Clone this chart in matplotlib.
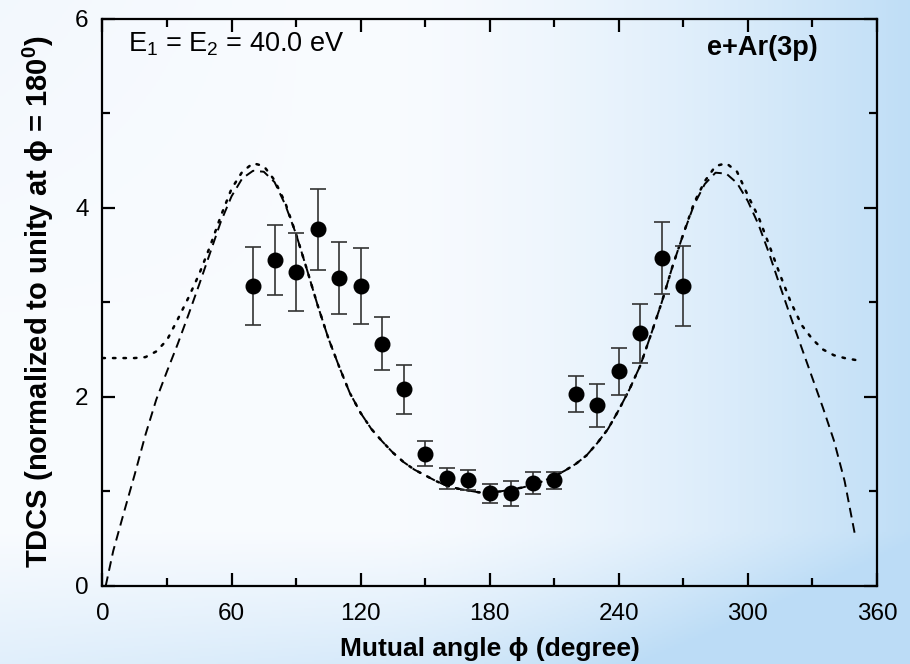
import numpy as np
import matplotlib
matplotlib.use("Agg")
import matplotlib.pyplot as plt
from matplotlib.ticker import MultipleLocator

plt.rcParams['font.family'] = ['Liberation Sans', 'DejaVu Sans']
plt.rcParams['mathtext.fontset'] = 'custom'
plt.rcParams['mathtext.rm'] = 'Liberation Sans'
plt.rcParams['mathtext.it'] = 'Liberation Sans:italic'
plt.rcParams['mathtext.bf'] = 'Liberation Sans:bold'

# Experimental data
exp_angle = [70, 80, 90, 100, 110, 120, 130, 140, 150, 160, 170, 180, 190, 200, 210,
             220, 230, 240, 250, 260, 270]
exp_tdcs = [3.17, 3.45, 3.32, 3.77, 3.26, 3.17, 2.56, 2.08, 1.40, 1.14, 1.12, 0.98, 0.98,
            1.09, 1.12, 2.03, 1.91, 2.27, 2.67, 3.47, 3.17]
exp_err = [0.41, 0.37, 0.41, 0.43, 0.38, 0.40, 0.28, 0.26, 0.13, 0.11, 0.11, 0.10, 0.13,
           0.12, 0.09, 0.19, 0.23, 0.25, 0.31, 0.38, 0.42]

# Theory (dashed)
dash_angle = [1.5, 5, 10, 15, 20, 25, 30, 35, 40, 45, 50, 55, 60, 65, 70, 75, 80, 85, 90, 95,
              100, 105, 110, 115, 120, 125, 130, 135, 140, 145, 150, 155, 160, 165, 170, 175,
              180, 185, 190, 195, 200, 205, 210, 215, 220, 225, 230, 235, 240, 245, 250, 255,
              260, 265, 270, 275, 280, 285, 290, 295, 300, 305, 310, 315, 320, 325, 330, 335,
              340, 345, 350]
dash_tdcs = [0.0, 0.37, 0.78, 1.18, 1.60, 1.97, 2.27, 2.56, 2.87, 3.19, 3.52, 3.85, 4.12, 4.31,
             4.39, 4.38, 4.27, 4.03, 3.72, 3.35, 2.97, 2.62, 2.32, 2.04, 1.83, 1.66, 1.53,
             1.41, 1.31, 1.23, 1.17, 1.11, 1.06, 1.03, 1.01, 0.99, 0.99, 1.00, 1.02, 1.04,
             1.07, 1.11, 1.16, 1.22, 1.29, 1.38, 1.51, 1.66, 1.86, 2.08, 2.33, 2.66, 3.00,
             3.38, 3.72, 4.03, 4.25, 4.37, 4.36, 4.26, 4.07, 3.82, 3.51, 3.17, 2.84, 2.52,
             2.20, 1.88, 1.54, 1.11, 0.52]

# Theory (dotted)
dot_angle = [0, 5, 10, 15, 20, 25, 30, 35, 40, 45, 50, 55, 60, 65, 70, 75, 80, 85, 90, 95,
             100, 105, 110, 115, 120, 125, 130, 135, 140, 145, 150, 155, 160, 165, 170, 175,
             180, 185, 190, 195, 200, 205, 210, 215, 220, 225, 230, 235, 240, 245, 250, 255,
             260, 265, 270, 275, 280, 285, 290, 295, 300, 305, 310, 315, 320, 325, 330, 335,
             340, 345, 350]
dot_tdcs = [2.41, 2.41, 2.41, 2.41, 2.42, 2.48, 2.60, 2.82, 3.05, 3.30, 3.59, 3.91, 4.20, 4.38,
            4.47, 4.44, 4.29, 4.05, 3.72, 3.35, 2.97, 2.62, 2.32, 2.04, 1.83, 1.66, 1.53,
            1.41, 1.31, 1.23, 1.17, 1.11, 1.06, 1.03, 1.01, 0.99, 0.99, 1.00, 1.02, 1.04,
            1.07, 1.11, 1.16, 1.22, 1.29, 1.38, 1.51, 1.66, 1.86, 2.08, 2.33, 2.66, 3.00,
            3.38, 3.72, 4.05, 4.28, 4.44, 4.47, 4.38, 4.13, 3.90, 3.60, 3.29, 3.00, 2.76,
            2.61, 2.50, 2.44, 2.41, 2.39]

x_ticks = [0, 60, 120, 180, 240, 300, 360]
y_ticks = [0, 2, 4, 6]

fig = plt.figure(figsize=(9.10, 6.64), dpi=100)

# background gradient
bg = fig.add_axes([0, 0, 1, 1], zorder=-10)
bg.set_axis_off()
H, W = 332, 455
yy, xx = np.mgrid[0:H, 0:W]
xn = xx / (W - 1)
yn = yy / (H - 1)
t = np.clip((xn - 0.42) / 0.58, 0, 1) ** 1.5 * 0.95
t = t + np.clip((yn - 0.80) / 0.20, 0, 1) ** 1.1 * (0.4 + 0.4 * xn)
t = t + 0.10 * np.clip(1 - (xn / 0.35), 0, 1) * np.clip(1 - yn / 0.5, 0, 1)
t = np.clip(t, 0, 1)
white = np.array([0.975, 0.985, 0.998])
blue = np.array([0.74, 0.865, 0.965])
img = white[None, None, :] * (1 - t[..., None]) + blue[None, None, :] * t[..., None]
bg.imshow(img, extent=[0, 1, 0, 1], aspect='auto', origin='upper')
bg.set_xlim(0, 1)
bg.set_ylim(0, 1)

ax = fig.add_axes([0.1126, 0.1175, 0.851, 0.8546])
ax.patch.set_alpha(0)

ax.plot(dot_angle, dot_tdcs, color='black', lw=1.8, dashes=(1.0, 3.2), dash_capstyle='round')
ax.plot(dash_angle, dash_tdcs, color='black', lw=1.4, dashes=(5, 3))
ax.errorbar(exp_angle, exp_tdcs, yerr=exp_err, fmt='o', color='black', ms=10.5,
            ecolor='#333333', elinewidth=1.2, capsize=6, capthick=1.2, zorder=5)

ax.set_xlim(0, 360)
ax.set_ylim(0, 6)
ax.set_xticks(x_ticks)
ax.set_yticks(y_ticks)
ax.xaxis.set_minor_locator(MultipleLocator(30))
ax.yaxis.set_minor_locator(MultipleLocator(1))
ax.tick_params(which='both', direction='in', top=True, right=True, width=1.6, labelsize=17.5)
ax.tick_params(which='major', length=9.5)
ax.tick_params(which='minor', length=5.5)
ax.tick_params(axis='x', pad=12)
ax.tick_params(axis='y', pad=10)
for s in ax.spines.values():
    s.set_linewidth(1.6)

ax.set_xlabel('Mutual angle ϕ (degree)', fontsize=19, fontweight='bold', labelpad=9)
ax.set_ylabel(r'TDCS (normalized to unity at ϕ = 180$^{\mathbf{0}}$)', fontsize=21,
              fontweight='bold', labelpad=14)

ax.text(0.033, 0.955, r'E$_1$ = E$_2$ = 40.0 eV', transform=ax.transAxes, fontsize=19.5,
        va='center', ha='left')
ax.text(0.924, 0.948, 'e+Ar(3p)', transform=ax.transAxes, fontsize=19.5, fontweight='bold',
        va='center', ha='right')

fig.savefig('out.png', dpi=100)
